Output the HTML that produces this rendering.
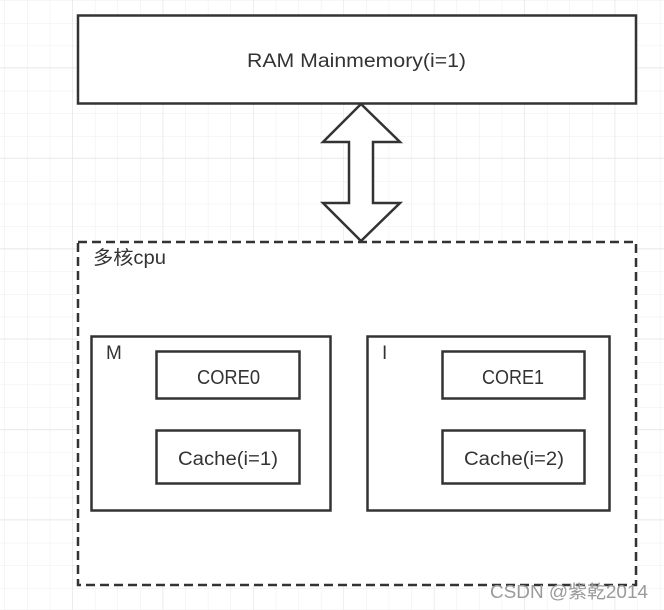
<!DOCTYPE html>
<html><head><meta charset="utf-8"><style>
html,body{margin:0;padding:0;background:#fff}
svg{display:block}
text{font-family:"Liberation Sans","Noto Sans CJK SC",sans-serif;fill:#333}
</style></head><body>
<svg width="664" height="610" viewBox="0 0 664 610" xmlns="http://www.w3.org/2000/svg">
<defs>
<pattern id="g" x="4.5" y="0.4" width="22.6" height="22.6" patternUnits="userSpaceOnUse">
<path d="M0 0H22.6M0 0V22.6" stroke="#ececec" stroke-width="1" fill="none"/>
</pattern>
<pattern id="G" x="72.3" y="67.4" width="90.4" height="90.4" patternUnits="userSpaceOnUse">
<path d="M0 0H90.4M0 0V90.4" stroke="#e2e2e2" stroke-width="1" fill="none"/>
</pattern>
</defs>
<rect width="664" height="610" fill="url(#g)"/>
<rect width="664" height="610" fill="url(#G)"/>
<rect x="78" y="15.5" width="558" height="88" fill="#fff" stroke="#333" stroke-width="2.5"/>
<text x="247" y="67" font-size="19" textLength="219" lengthAdjust="spacingAndGlyphs">RAM Mainmemory(i=1)</text>
<polygon points="361,104 400,142 373,142 373,203 400,203 361,241 323,203 349,203 349,142 323,142" fill="#fff" stroke="#333" stroke-width="2.5"/>
<rect x="78" y="242" width="558" height="343" fill="#fff" stroke="#333" stroke-width="2.5" stroke-dasharray="9,5"/>
<text x="93" y="264" font-size="19" textLength="73" lengthAdjust="spacingAndGlyphs">多核cpu</text>
<rect x="91.5" y="336.5" width="239" height="174" fill="#fff" stroke="#333" stroke-width="2.5"/>
<text x="106" y="359" font-size="19">M</text>
<rect x="156.5" y="351.5" width="143" height="47" fill="#fff" stroke="#333" stroke-width="2.5"/>
<text x="197" y="384" font-size="20" textLength="63" lengthAdjust="spacingAndGlyphs">CORE0</text>
<rect x="156.5" y="430.5" width="143" height="53" fill="#fff" stroke="#333" stroke-width="2.5"/>
<text x="178" y="465" font-size="19" textLength="100" lengthAdjust="spacingAndGlyphs">Cache(i=1)</text>
<rect x="367.5" y="336.5" width="242" height="174" fill="#fff" stroke="#333" stroke-width="2.5"/>
<text x="382" y="359" font-size="19">I</text>
<rect x="442.5" y="351.5" width="142" height="47" fill="#fff" stroke="#333" stroke-width="2.5"/>
<text x="482" y="384" font-size="20" textLength="62" lengthAdjust="spacingAndGlyphs">CORE1</text>
<rect x="442.5" y="430.5" width="142" height="53" fill="#fff" stroke="#333" stroke-width="2.5"/>
<text x="464" y="465" font-size="19" textLength="100" lengthAdjust="spacingAndGlyphs">Cache(i=2)</text>
<text x="490" y="598" font-size="18" style="fill:#9a9a9a" textLength="158" lengthAdjust="spacingAndGlyphs">CSDN @紫乾2014</text>
</svg>
</body></html>
